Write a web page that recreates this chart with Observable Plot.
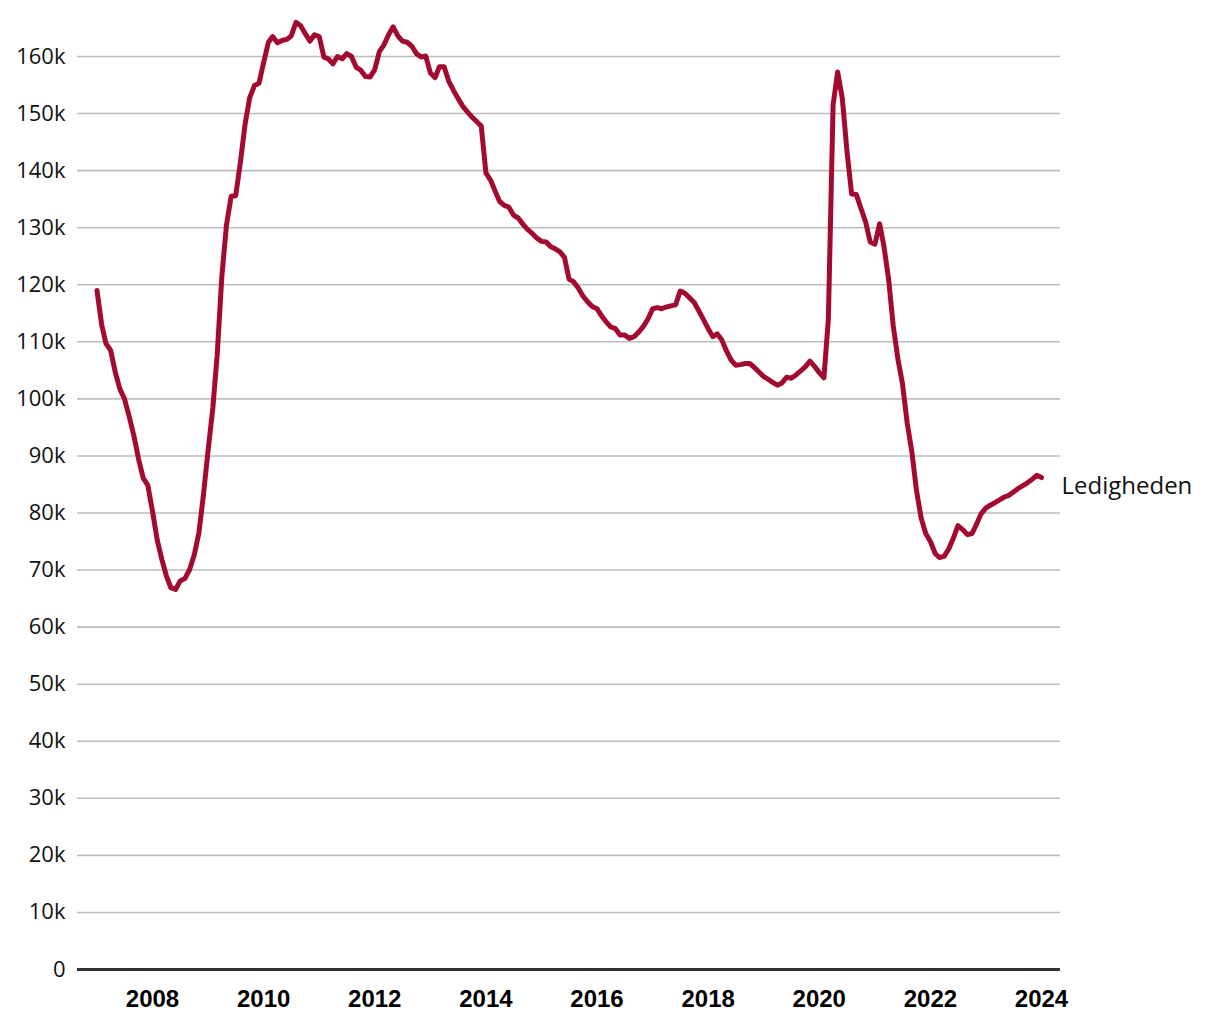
<!DOCTYPE html>
<html>
<head>
<meta charset="utf-8">
<script src="https://cdn.jsdelivr.net/npm/d3@7"></script>
<script src="https://cdn.jsdelivr.net/npm/@observablehq/plot@0.6"></script>
<style>
  html, body { margin: 0; padding: 0; background: #fff; }
  #chart svg { display: block; }
</style>
</head>
<body>
<div id="chart"></div>
<script>
// Månedlig ledighed (tusinde personer), januar 2007 – januar 2024
const startDato = "2007-01-01";
const serieNavn = "Ledigheden";
const ledighed = [
  119.0, 113.0, 109.7, 108.5, 104.7, 101.7, 100.0, 96.9, 93.5, 89.5, 86.1, 84.9,
  80.3, 75.3, 72.0, 69.0, 66.9, 66.6, 68.1, 68.5, 70.1, 72.6, 76.5, 83.2,
  91.1, 98.5, 107.6, 121.5, 130.4, 135.5, 135.6, 141.5, 148.2, 152.8, 154.9, 155.3,
  159.0, 162.5, 163.5, 162.4, 162.8, 163.0, 163.6, 166.0, 165.4, 164.0, 162.7, 163.8,
  163.5, 159.9, 159.6, 158.7, 160.0, 159.6, 160.5, 160.0, 158.1, 157.6, 156.5, 156.4,
  157.7, 160.9, 162.0, 163.8, 165.2, 163.6, 162.7, 162.5, 161.8, 160.5, 159.9, 160.1,
  157.1, 156.3, 158.2, 158.2, 155.7, 154.1, 152.7, 151.3, 150.3, 149.4, 148.6, 147.8,
  139.6, 138.3, 136.5, 134.6, 133.9, 133.6, 132.2, 131.7, 130.6, 129.7, 129.0, 128.2,
  127.6, 127.5, 126.7, 126.3, 125.8, 124.8, 121.0, 120.5, 119.4, 118.0, 117.0, 116.2,
  115.8, 114.5, 113.5, 112.6, 112.3, 111.2, 111.2, 110.6, 110.9, 111.7, 112.7, 114.0,
  115.8, 116.0, 115.8, 116.1, 116.3, 116.5, 118.9, 118.5, 117.7, 116.9, 115.4, 113.9,
  112.3, 110.9, 111.4, 110.3, 108.4, 106.8, 105.9, 106.0, 106.2, 106.2, 105.5, 104.7,
  103.9, 103.4, 102.9, 102.4, 102.8, 103.8, 103.6, 104.2, 104.9, 105.6, 106.6, 105.7,
  104.6, 103.7, 114.0, 151.5, 157.3, 152.6, 143.5, 135.9, 135.8, 133.4, 131.0, 127.5,
  127.1, 130.7, 126.8, 121.0, 112.9, 107.0, 102.7, 95.8, 90.7, 84.0, 79.1, 76.4,
  75.0, 72.9, 72.2, 72.4, 73.7, 75.6, 77.8, 77.1, 76.2, 76.4, 78.1, 79.9,
  80.9, 81.4, 81.8, 82.3, 82.8, 83.1, 83.7, 84.3, 84.8, 85.3, 85.9, 86.6,
  86.2
];
const yTicks = [0, 10, 20, 30, 40, 50, 60, 70, 80, 90, 100, 110, 120, 130, 140, 150, 160];
const xTickYears = [2008, 2010, 2012, 2014, 2016, 2018, 2020, 2022, 2024];

const start = new Date(startDato + "T00:00:00Z");
const data = ledighed.map((v, i) => ({
  date: d3.utcMonth.offset(start, i),
  value: v
}));
const last = data[data.length - 1];

const chart = Plot.plot({
  width: 1220,
  height: 1020,
  marginLeft: 77,
  marginRight: 160,
  marginTop: 56,
  marginBottom: 51,
  style: { fontFamily: "'Open Sans', sans-serif", fontSize: "22px", color: "#111", background: "#fff" },
  x: {
    type: "utc",
    domain: [new Date("2006-08-26T00:00:00Z"), new Date("2024-05-05T00:00:00Z")],
    label: null
  },
  y: { domain: [0, 160], label: null },
  marks: [
    Plot.ruleY(yTicks.filter(d => d > 0), { stroke: "#bdbdbd", strokeWidth: 1.6 }),
    Plot.axisY({
      ticks: yTicks,
      tickSize: 0,
      tickPadding: 12,
      tickFormat: d => d === 0 ? "0" : d + "k",
      fontSize: 22,
      fontFamily: "'Open Sans', sans-serif",
      fill: "#111",
      label: null
    }),
    Plot.axisX({
      ticks: xTickYears.map(y => new Date(Date.UTC(y, 0, 1))),
      tickFormat: d3.utcFormat("%Y"),
      tickSize: 0,
      tickPadding: 20,
      fontSize: 24,
      fontWeight: "bold",
      fontFamily: "'Liberation Sans', Arial, sans-serif",
      fill: "#000",
      label: null
    }),
    Plot.ruleY([0], { stroke: "#333", strokeWidth: 3 }),
    Plot.line(data, {
      x: "date",
      y: "value",
      stroke: "#a30a2f",
      strokeWidth: 5,
      strokeLinejoin: "round",
      strokeLinecap: "round"
    }),
    Plot.text([last], {
      x: "date",
      y: "value",
      text: () => serieNavn,
      dx: 20,
      dy: 9,
      textAnchor: "start",
      fontSize: 24,
      fontFamily: "'Open Sans', sans-serif",
      fill: "#111"
    })
  ]
});
document.getElementById("chart").appendChild(chart);
</script>
</body>
</html>
